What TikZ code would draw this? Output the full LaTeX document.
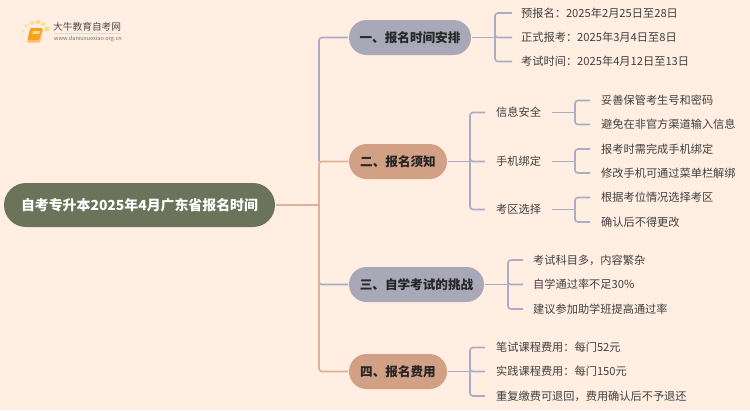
\documentclass[tikz,border=0pt]{standalone}
\usepackage{fontspec}
\setmainfont{Noto Sans CJK SC}
\usetikzlibrary{positioning}
\definecolor{paper}{RGB}{255,238,225}
\definecolor{moss}{RGB}{107,115,90}
\definecolor{slate}{RGB}{168,168,184}
\definecolor{clay}{RGB}{210,160,133}
\definecolor{slateline}{RGB}{170,172,196}
\definecolor{clayline}{RGB}{222,178,154}
\definecolor{inkleaf}{RGB}{64,64,64}
\definecolor{amber}{RGB}{245,160,30}
\definecolor{sun}{RGB}{252,220,130}
\tikzset{
  rootbox/.style={rectangle,rounded corners=22pt,fill=moss,text=white,font=\fontsize{13.9}{16}\selectfont\bfseries,
    minimum width=271pt,minimum height=44pt,inner sep=0pt,outer sep=1pt},
  topicbox/.style={rectangle,rounded corners=17.5pt,fill=#1,text=black!85,font=\fontsize{12.6}{15}\selectfont\bfseries,
    minimum height=35pt,inner sep=0pt,outer sep=1pt},
  leaftext/.style={anchor=west,text=inkleaf,font=\fontsize{11.2}{14}\selectfont,inner ysep=0pt,inner xsep=#1},
  leaftext/.default=10.5pt,
  slatelink/.style={slateline,line width=1.6pt,rounded corners=3pt},
  claylink/.style={clayline,line width=1.8pt,rounded corners=3pt}
}
\begin{document}
\begin{tikzpicture}[x=1pt,y=-1pt]
  \fill[paper] (0,0) rectangle (750,410);
  \useasboundingbox (0,0) rectangle (750,410);
  % logo
  \foreach \x/\y/\s/\t in {23/37/1.2/45,23/31/1.6/60,26/26/1.8/75,32/23/2/85,38/22/2.2/100,43/24/2/90,47/29/2.6/100,23.5/42/1/30}
    \fill[sun!\t!paper] (\x,\y) circle (\s);
  \fill[amber!65!white,rounded corners=1pt] (30,28.5) -- (43.5,28.5) -- (40,42.5) -- (27,42.5) -- cycle;
  \fill[amber,rounded corners=1pt] (30.5,28) -- (42.5,28) -- (39,40) -- (27.5,40) -- cycle;
  \fill[sun] (33,31) -- (40,31) -- (39.3,34) -- (32.2,34) -- cycle;
  \node[anchor=west,inner sep=0pt,text=black!70,font=\fontsize{9.7}{11}\selectfont] (logoname) at (53,27) {大牛教育自考网};
  \draw[black!15,line width=0.5pt] (54,33) -- (121,33);
  \node[anchor=west,inner sep=0pt,text=black!55,font=\fontsize{5.6}{7}\selectfont] (logourl) at (54,39) {www.daniuxuexiao.org.cn};

  % main nodes
  \node[rootbox] (root) at (139.5,205) {自考专升本2025年4月广东省报名时间};
  \node[topicbox=slate,minimum width=122pt] (one) at (410,37.5) {一、报名时间安排};
  \node[topicbox=clay,minimum width=98pt] (two) at (398,161.5) {二、报名须知};
  \node[topicbox=slate,minimum width=135pt] (three) at (416.5,284.5) {三、自学考试的挑战};
  \node[topicbox=clay,minimum width=98pt] (four) at (398,371.5) {四、报名费用};

  % spine
  \coordinate (spine) at (319,205);
  \coordinate (fone) at (495,37.5);
  \coordinate (ftwo) at (470,161.5);
  \coordinate (fthree) at (508,284.5);
  \coordinate (ffour) at (470,371.5);
  \draw[slatelink] (spine |- two) |- (one.west);
  \draw[slatelink] (spine) |- (three.west);
  \draw[claylink] (spine) |- (two.west);
  \draw[claylink] (spine) |- (four.west);
  \draw[claylink] (root.east) -- (spine);

  % first group
  \node[leaftext=9pt] (onea) at (512,13) {预报名：2025年2月25日至28日};
  \node[leaftext=9pt] (oneb) at (512,37.5) {正式报考：2025年3月4日至8日};
  \node[leaftext=9pt] (onec) at (512,61.5) {考试时间：2025年4月12日至13日};
  \draw[slatelink] (one.east) -- (fone);
  \foreach \n in {onea,oneb,onec} \draw[slatelink] (fone) |- (\n.west);

  % second group
  \node[leaftext=11pt] (twoa) at (485,112.5) {信息安全};
  \node[leaftext=11pt] (twob) at (485,161.5) {手机绑定};
  \node[leaftext=11pt] (twoc) at (485,209.5) {考区选择};
  \draw[slatelink] (two.east) -- (ftwo);
  \foreach \n in {twoa,twob,twoc} \draw[slatelink] (ftwo) |- (\n.west);
  \node[leaftext=11pt] (infoa) at (590,100.5) {妥善保管考生号和密码};
  \node[leaftext=11pt] (infob) at (590,124.5) {避免在非官方渠道输入信息};
  \node[leaftext=11pt] (phonea) at (590,149) {报考时需完成手机绑定};
  \node[leaftext=11pt] (phoneb) at (590,173) {修改手机可通过菜单栏解绑};
  \node[leaftext=11pt] (areaa) at (590,197.5) {根据考位情况选择考区};
  \node[leaftext=11pt] (areab) at (590,222) {确认后不得更改};
  \coordinate (finfo) at (575,112.5);
  \coordinate (fphone) at (575,161.5);
  \coordinate (farea) at (575,209.5);
  \foreach \p/\f/\x/\y in {twoa/finfo/infoa/infob,twob/fphone/phonea/phoneb,twoc/farea/areaa/areab} {
    \draw[slatelink] (\p.east) -- (\f);
    \draw[slatelink] (\f) |- (\x.west);
    \draw[slatelink] (\f) |- (\y.west);
  }

  % third group
  \node[leaftext=10pt] (threea) at (523,260) {考试科目多，内容繁杂};
  \node[leaftext=10pt] (threeb) at (523,284.5) {自学通过率不足30\%};
  \node[leaftext=10pt] (threec) at (523,309) {建议参加助学班提高通过率};
  \draw[slatelink] (three.east) -- (fthree);
  \foreach \n in {threea,threeb,threec} \draw[slatelink] (fthree) |- (\n.west);

  % fourth group
  \node[leaftext=11pt] (foura) at (485,347.5) {笔试课程费用：每门52元};
  \node[leaftext=11pt] (fourb) at (485,371.5) {实践课程费用：每门150元};
  \node[leaftext=11pt] (fourc) at (485,396) {重复缴费可退回，费用确认后不予退还};
  \draw[slatelink] (four.east) -- (ffour);
  \foreach \n in {foura,fourb,fourc} \draw[slatelink] (ffour) |- (\n.west);
\end{tikzpicture}
\end{document}
